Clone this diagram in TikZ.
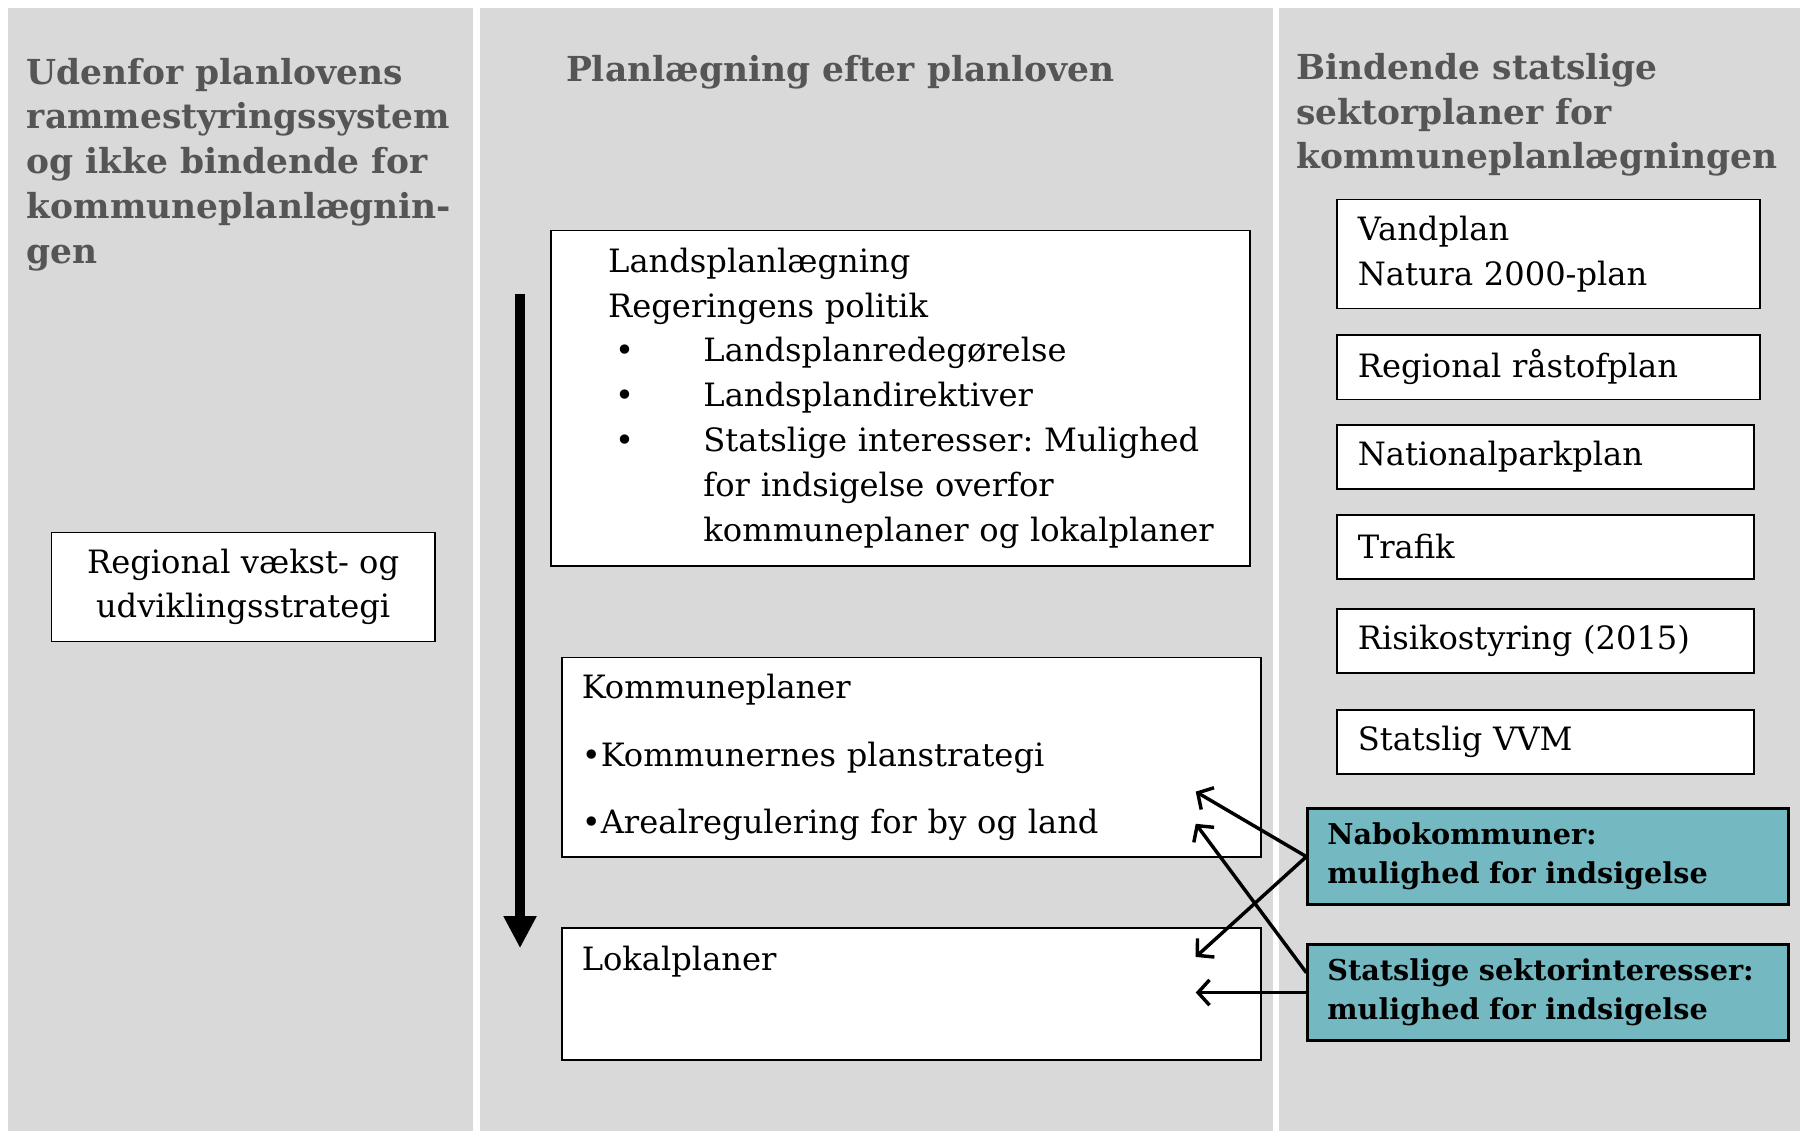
\documentclass[tikz,border=0pt]{standalone}
\usepackage{fontspec}
\setmainfont{DejaVu Serif}
\frenchspacing
\usetikzlibrary{positioning,calc,arrows.meta}
\definecolor{panelgray}{RGB}{217,217,217}
\definecolor{headgray}{RGB}{85,85,85}
\definecolor{indsigfill}{RGB}{116,185,194}
\tikzset{
    head/.style = {anchor=north west, inner sep=0pt, align=left, text=headgray,
        font=\bfseries\fontsize{15}{19.5}\selectfont},
    plan/.style = {draw, fill=white, line width=0.8pt, align=left,
        font=\fontsize{14}{19.5}\selectfont},
    sektor/.style = {plan, anchor=north west, inner xsep=9pt,
        minimum height=28pt, text width=163.5pt},
    indsig/.style = {draw, fill=indsigfill, line width=1.2pt, anchor=north west,
        align=left, inner xsep=8.5pt, text width=192.5pt, minimum height=42pt,
        font=\bfseries\fontsize{12.5}{17}\selectfont},
    arrow/.style = {draw, line width=1.5pt, -{Straight Barb[length=5pt,width=11pt]}},
    flow/.style = {draw, line width=4pt, -{Triangle[length=14pt,width=13.5pt]}}
}
\newcommand{\bul}{\makebox[41.5pt][l]{\hspace{3pt}\textbullet}}
\newcommand{\ind}{\hspace*{41.5pt}}

\begin{document}
\begin{tikzpicture}[x=0.5pt, y=0.5pt]
    \useasboundingbox (0,0) rectangle (1568,-985);
    % the three columns
    \fill [panelgray] (7,-7) rectangle (412,-985);
    \fill [panelgray] (418,-7) rectangle (1109,-985);
    \fill [panelgray] (1114,-7) rectangle (1568,-985);

    % headings
    \node [head] (hudenfor) at (23,-50) {Udenfor planlovens\\rammestyringssystem\\og ikke bindende for\\kommuneplanlægnin-\\gen};
    \node [head, anchor=north] (hplan) at (732,-48) {Planlægning efter planloven};
    \node [head] (hbindende) at (1129,-46) {Bindende statslige\\sektorplaner for\\kommuneplanlægningen};

    % left column
    \node [plan, align=center, anchor=north west, minimum width=167pt, minimum height=47.5pt] (rvus) at (44,-463) {Regional vækst- og\\udviklingsstrategi};

    % middle column
    \node [plan, anchor=north west, inner xsep=12pt, text width=280.5pt, minimum height=146pt] (lands) at (479,-200)
        {\leftskip=13pt Landsplanlægning\\Regeringens politik\\\bul Landsplanredegørelse\\\bul Landsplandirektiver\\\bul Statslige interesser: Mulighed\\\ind for indsigelse overfor\\\ind kommuneplaner og lokalplaner\par};
    \node [plan, anchor=north west, inner xsep=8.5pt, text width=287.5pt, minimum height=87pt] (kommune) at (489,-572)
        {Kommuneplaner\\[10pt]\textbullet Kommunernes planstrategi\\[10pt]\textbullet Arealregulering for by og land};
    \node [plan, below=30pt of kommune.south west, anchor=north west, inner xsep=8.5pt, text width=287.5pt, minimum height=57.5pt] (lokal)
        {Lokalplaner\\[6pt]\strut};
    \coordinate (flowtop) at (453,-256);
    \coordinate (flowend) at (453,-826);
    \draw [flow] (flowtop) -- (flowend);

    % right column
    \node [sektor, text width=166pt, minimum height=47.5pt] (vand) at (1164,-173) {Vandplan\\Natura 2000-plan};
    \node [sektor, text width=166pt, below=10.8pt of vand.south west, anchor=north west] (raastof) {Regional råstofplan};
    \node [sektor, below=10.3pt of raastof.south west, anchor=north west] (natpark) {Nationalparkplan};
    \node [sektor, below=10.3pt of natpark.south west, anchor=north west] (trafik) {Trafik};
    \node [sektor, below=12.3pt of trafik.south west, anchor=north west] (risiko) {Risikostyring (2015)};
    \node [sektor, below=15pt of risiko.south west, anchor=north west] (vvm) {Statslig VVM};

    \node [indsig] (nabo) at (1138,-703) {Nabokommuner:\\mulighed for indsigelse};
    \node [indsig, below=16pt of nabo.south west, anchor=north west] (statint) {Statslige sektorinteresser:\\mulighed for indsigelse};

    % indsigelser
    \coordinate (kp1) at ($(kommune.south east)+(-58,58)$);
    \coordinate (kp2) at ($(kommune.south east)+(-58,30)$);
    \coordinate (lp1) at ($(lokal.north east)+(-58,-26)$);
    \coordinate (lp2) at (statint.west -| kp1);
    \coordinate (statout) at ($(statint.north west)!0.3!(statint.south west)$);
    \draw [arrow] (nabo.west) -- (kp1);
    \draw [arrow] (nabo.west) -- (lp1);
    \draw [arrow] (statout) -- (kp2);
    \draw [arrow] (statint.west) -- (lp2);
\end{tikzpicture}
\end{document}
